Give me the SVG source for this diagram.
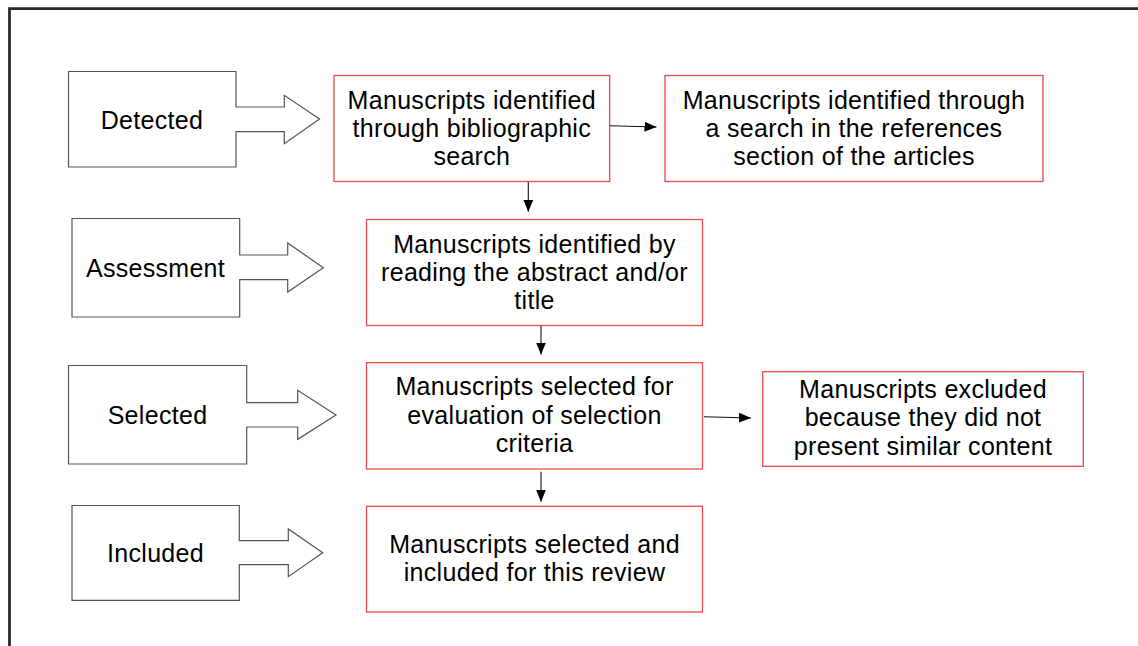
<svg xmlns="http://www.w3.org/2000/svg" width="1138" height="646" viewBox="0 0 1138 646">
<style>
text{font-family:"Liberation Sans",Arial,sans-serif;font-size:25px;fill:#000;text-anchor:middle;letter-spacing:0.3px}
.stage{fill:#fff;stroke:#555;stroke-width:1.2}
.box{fill:#fff;stroke:#ea4b4b;stroke-width:1.3}
.conn{stroke:#111;stroke-width:1.1;fill:none;marker-end:url(#ah)}
</style>
<defs>
<marker id="ah" viewBox="0 0 12 10" refX="12" refY="5" markerWidth="12" markerHeight="10" markerUnits="userSpaceOnUse" orient="auto">
<path d="M0,0 L12,5 L0,10 Z" fill="#000"/>
</marker>
</defs>
<rect width="1138" height="646" fill="#fff"/>
<path d="M9.5,646 V8.7 H1138" fill="none" stroke="#2a2a2a" stroke-width="2.8"/>

<g id="stage-detected">
<path class="stage" d="M68.5,71.5 H236 V107 H284.3 V95.3 L319.5,119 L284.3,143.7 V131.7 H236 V167 H68.5 Z"/>
<text x="152" y="129">Detected</text>
</g>
<g id="stage-assessment">
<path class="stage" d="M72,218.5 H239.7 V255 H287.7 V243 L323.3,267.7 L287.7,292 V279.7 H239.7 V317 H72 Z"/>
<text x="155.5" y="277.3">Assessment</text>
</g>
<g id="stage-selected">
<path class="stage" d="M68.5,365.5 H246.7 V402.7 H297.7 V390.3 L336,415 L297.7,439.3 V427 H246.7 V464 H68.5 Z"/>
<text x="157.5" y="423.7">Selected</text>
</g>
<g id="stage-included">
<path class="stage" d="M72,505.5 H239.3 V540.7 H288.3 V529 L322.7,552.7 L288.3,576.7 V564.7 H239.3 V600.3 H72 Z"/>
<text x="155.5" y="562">Included</text>
</g>

<g id="box-bibliographic">
<rect class="box" x="334" y="75.5" width="275.7" height="106"/>
<text x="471.8" y="109">Manuscripts identified</text>
<text x="471.8" y="137">through bibliographic</text>
<text x="471.8" y="165">search</text>
</g>
<g id="box-references">
<rect class="box" x="665" y="75.5" width="378" height="106"/>
<text x="854" y="109">Manuscripts identified through</text>
<text x="854" y="137">a search in the references</text>
<text x="854" y="165">section of the articles</text>
</g>
<g id="box-abstract">
<rect class="box" x="366.5" y="219.5" width="336" height="106"/>
<text x="534.5" y="252.7">Manuscripts identified by</text>
<text x="534.5" y="280.7">reading the abstract and/or</text>
<text x="534.5" y="308.5">title</text>
</g>
<g id="box-evaluation">
<rect class="box" x="366.5" y="362.7" width="336" height="106.3"/>
<text x="534.5" y="395">Manuscripts selected for</text>
<text x="534.5" y="423.5">evaluation of selection</text>
<text x="534.5" y="451.7">criteria</text>
</g>
<g id="box-excluded">
<rect class="box" x="762.7" y="371.7" width="320.6" height="94.6"/>
<text x="923" y="397.7">Manuscripts excluded</text>
<text x="923" y="426.3">because they did not</text>
<text x="923" y="455">present similar content</text>
</g>
<g id="box-included">
<rect class="box" x="366.5" y="506.3" width="336" height="105.7"/>
<text x="534.5" y="552.7">Manuscripts selected and</text>
<text x="534.5" y="581">included for this review</text>
</g>

<g id="connectors">
<path class="conn" d="M610,125.7 L656.5,127"/>
<path class="conn" d="M528.3,182 V211.7"/>
<path class="conn" d="M541,326 V354.5"/>
<path class="conn" d="M541,471.7 V501.7"/>
<path class="conn" d="M704,416.7 L751,418"/>
</g>
</svg>
